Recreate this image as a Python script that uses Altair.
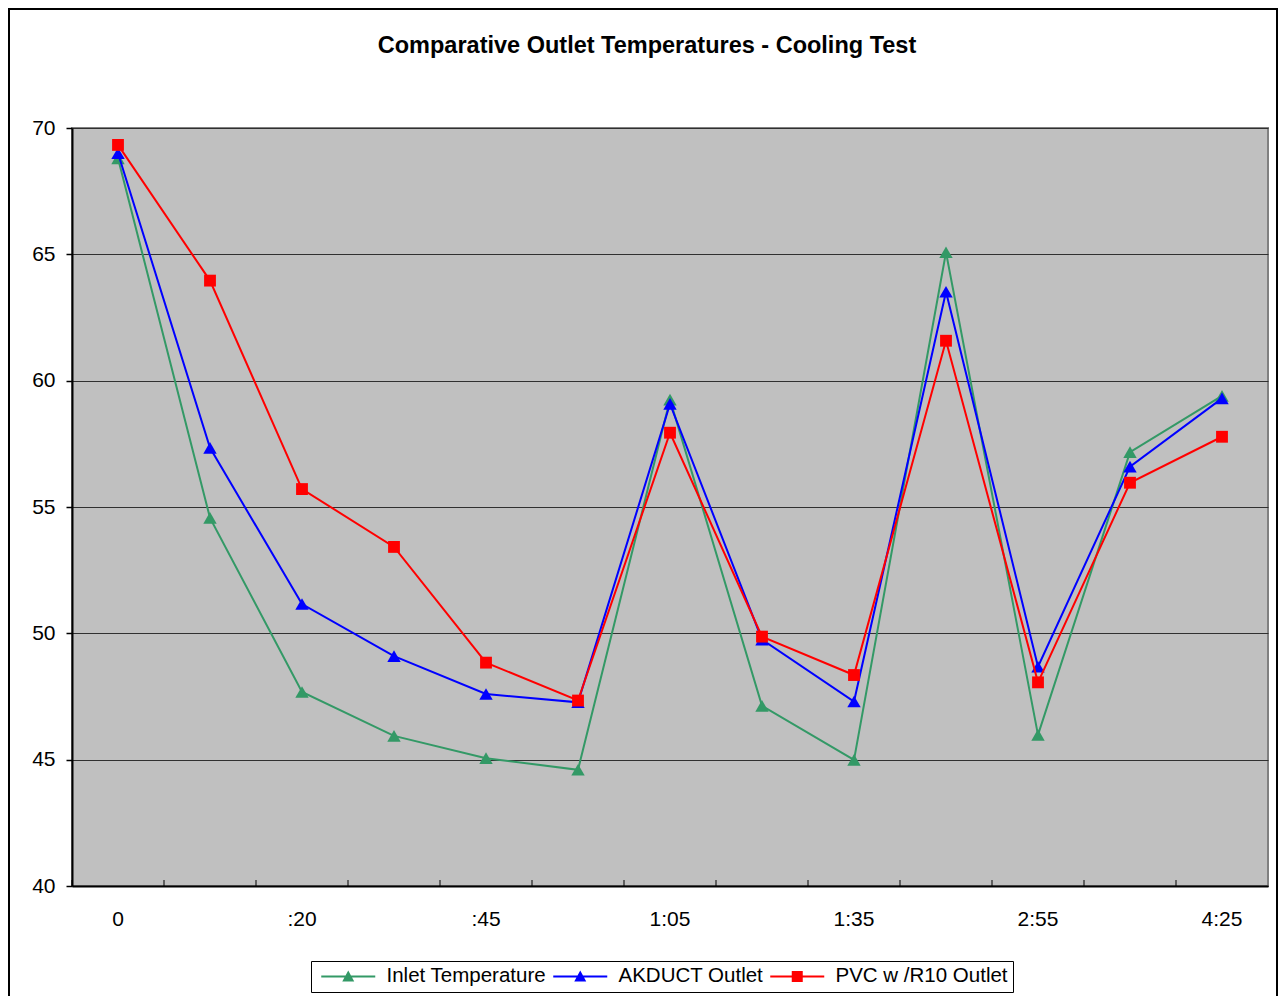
import altair as alt
import pandas as pd

# ---- data ----
title_text = "Comparative Outlet Temperatures - Cooling Test"
categories = ["0", ":10", ":20", ":30", ":45", ":55", "1:05", "1:20", "1:35", "2:25", "2:55", "3:55", "4:25"]
shown_labels = ["0", ":20", ":45", "1:05", "1:35", "2:55", "4:25"]
inlet = [68.8, 54.57, 47.68, 45.94, 45.06, 44.6, 59.25, 47.13, 44.99, 65.08, 45.98, 57.17, 59.4]
akduct = [69.0, 57.34, 51.16, 49.1, 47.6, 47.27, 59.08, 49.75, 47.3, 63.52, 48.68, 56.6, 59.3]
pvc = [69.33, 63.96, 55.71, 53.42, 48.84, 47.34, 57.94, 49.87, 48.35, 61.58, 48.06, 55.96, 57.78]
series_names = ["Inlet Temperature", "AKDUCT Outlet", "PVC w /R10 Outlet"]
series_colors = ["#339966", "#0000FF", "#FF0000"]
marker_shapes = ["triangle-up", "triangle-up", "square"]
marker_sizes = [180, 180, 140]
y_ticks = [40, 45, 50, 55, 60, 65, 70]

# legend symbols: line + marker (custom paths, 1 unit = 5px)
legend_paths = [
    "M-5.4,-0.2H5.4V0.2H-5.4Z M-1.2,1L0,-1.2L1.2,1Z",
    "M-5.4,-0.2H5.4V0.2H-5.4Z M-1.2,1L0,-1.2L1.2,1Z",
    "M-5.4,-0.2H5.4V0.2H-5.4Z M-1.1,-1.1H1.1V1.1H-1.1Z",
]

rows = []
for name, vals in zip(series_names, [inlet, akduct, pvc]):
    for c, v in zip(categories, vals):
        rows.append({"time": c, "series": name, "temp": v})
df = pd.DataFrame(rows)

FONT = "Liberation Sans"
W, H = 1196, 758

label_list = ",".join("'" + s + "'" for s in shown_labels)
x_scale = alt.Scale(type="band", domain=categories, paddingInner=0, paddingOuter=0)
y_scale = alt.Scale(domain=[40, 70], nice=False, zero=False)

x_axis = alt.Axis(
    title=None, labelAngle=0, labelFontSize=21, labelFont=FONT, labelColor="black",
    ticks=False, labelPadding=22, domainColor="black", domainWidth=2, grid=False,
    labelOverlap=False,
    labelExpr="indexof([" + label_list + "], datum.value) >= 0 ? datum.label : ''",
)
y_axis = alt.Axis(
    title=None, values=y_ticks, labelFontSize=21, labelFont=FONT, labelColor="black",
    tickSize=6, tickColor="black", tickWidth=1.5, domainColor="black", domainWidth=2,
    grid=True, gridColor="#303030", gridWidth=1, labelPadding=11,
)

X = alt.X("time:N", scale=x_scale, axis=x_axis)
Y = alt.Y("temp:Q", scale=y_scale, axis=y_axis)

layers = []

# outer chart-area frame
frame = alt.Chart(pd.DataFrame({"k": [0]})).mark_rect(
    fillOpacity=0, stroke="black", strokeWidth=2
).encode(x=alt.value(-63), x2=alt.value(1205), y=alt.value(-119), y2=alt.value(1000))
layers.append(frame)

# chart title (as text so the frame does not push it out of view)
title = alt.Chart(pd.DataFrame({"t": [title_text]})).mark_text(
    font=FONT, fontSize=23.5, fontWeight="bold", color="black", align="center", baseline="middle"
).encode(text="t:N", x=alt.value(575), y=alt.value(-82))
layers.append(title)

# inward category tick marks on the x axis
ticks = alt.Chart(pd.DataFrame({"time": categories})).mark_rule(
    color="black", strokeWidth=1
).encode(
    x=alt.X("time:N", scale=x_scale, axis=x_axis, bandPosition=0),
    y=alt.value(H - 6), y2=alt.value(H),
)
layers.append(ticks)

base = alt.Chart(df)
for name, color, shape, size in zip(series_names, series_colors, marker_shapes, marker_sizes):
    sub = base.transform_filter(alt.datum.series == name)
    layers.append(sub.mark_line(color=color, strokeWidth=2).encode(x=X, y=Y))
    layers.append(
        sub.mark_point(shape=shape, filled=True, color=color, size=size, opacity=1).encode(x=X, y=Y)
    )

legend = alt.Legend(
    title=None, orient="none", legendX=239, legendY=833, direction="horizontal", columns=3,
    labelFont=FONT, labelFontSize=20.5, labelColor="black", labelLimit=400,
    symbolSize=100, symbolOffset=22, labelOffset=28, columnPadding=1, padding=5,
    strokeColor="black", fillColor="white", symbolStrokeWidth=0,
)
legend_layer = base.transform_filter("false").mark_point(filled=True, opacity=1, size=100).encode(
    x=X, y=Y,
    color=alt.Color("series:N", scale=alt.Scale(domain=series_names, range=series_colors), legend=legend),
    shape=alt.Shape("series:N", scale=alt.Scale(domain=series_names, range=legend_paths), legend=legend),
)
layers.append(legend_layer)

chart = alt.layer(*layers).properties(
    width=W, height=H,
    padding={"left": 64, "top": 120, "right": 10, "bottom": 110},
    autosize=alt.AutoSizeParams(type="none"),
    background="white",
).configure_view(stroke="#808080", strokeWidth=2, fill="#C0C0C0")

chart.save("out.html", embed_options={"renderer": "svg", "actions": False})
